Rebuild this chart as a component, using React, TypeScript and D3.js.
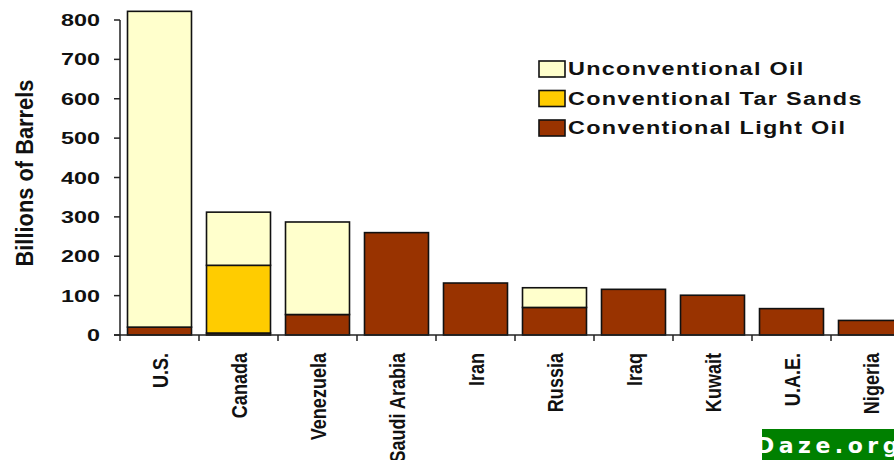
import React, { useEffect, useRef } from 'react';
import * as d3 from 'd3';

// Oil reserves by country (billions of barrels)
const countries = ['U.S.', 'Canada', 'Venezuela', 'Saudi Arabia', 'Iran', 'Russia', 'Iraq', 'Kuwait', 'U.A.E.', 'Nigeria'];
const lightOil = [20, 5, 52, 260, 132, 70, 116, 101, 67, 37];
const tarSands = [0, 172, 0, 0, 0, 0, 0, 0, 0, 0];
const unconventional = [802, 135, 235, 0, 0, 50, 0, 0, 0, 0];
const seriesNames = ['Conventional Light Oil', 'Conventional Tar Sands', 'Unconventional Oil'];
const seriesColors = ['#993300', '#FFCC00', '#FFFFCC'];
const yTicks = [0, 100, 200, 300, 400, 500, 600, 700, 800];

const App: React.FC = () => {
  const svgRef = useRef<SVGSVGElement>(null);
  const width = 894;
  const height = 460;

  useEffect(() => {
    if (!svgRef.current) return;
    const svg = d3.select(svgRef.current);
    svg.selectAll('*').remove();

    const left = 120;
    const zeroY = 335;

    const x = d3.scaleBand<string>()
      .domain(countries)
      .range([left, left + 79 * countries.length])
      .paddingInner(0.19)
      .paddingOuter(0.095);

    const y = d3.scaleLinear()
      .domain([0, 800])
      .range([zeroY, 20]);

    const rows = countries.map((c, i) => ({
      country: c,
      light: lightOil[i],
      tar: tarSands[i],
      unconv: unconventional[i]
    }));
    const stack = d3.stack<any>()
      .keys(['light', 'tar', 'unconv'])(rows);

    // Bars
    stack.forEach((layer, li) => {
      svg.append('g')
        .selectAll('rect')
        .data(layer.filter(d => d[1] - d[0] > 0))
        .enter().append('rect')
        .attr('x', d => x(d.data.country)!)
        .attr('width', x.bandwidth())
        .attr('y', d => y(d[1]))
        .attr('height', d => y(d[0]) - y(d[1]))
        .attr('fill', seriesColors[li])
        .attr('stroke', '#111')
        .attr('stroke-width', 1.6);
    });

    // Y axis
    const axisColor = '#222';
    svg.append('line')
      .attr('x1', left).attr('x2', left)
      .attr('y1', y(800)).attr('y2', zeroY)
      .attr('stroke', axisColor).attr('stroke-width', 1.5);
    svg.selectAll('.ytick')
      .data(yTicks)
      .enter().append('line')
      .attr('x1', left - 6).attr('x2', left)
      .attr('y1', d => y(d)).attr('y2', d => y(d))
      .attr('stroke', axisColor).attr('stroke-width', 1.5);
    svg.selectAll('.ylabel')
      .data(yTicks)
      .enter().append('text')
      .attr('x', 100)
      .attr('y', d => y(d))
      .attr('dy', '0.36em')
      .attr('text-anchor', 'end')
      .attr('textLength', d => String(d).length * 13)
      .attr('lengthAdjust', 'spacingAndGlyphs')
      .style('font-family', 'Liberation Sans, Arial, sans-serif')
      .style('font-weight', 'bold')
      .style('font-size', '17px')
      .style('fill', '#111')
      .text(d => d);

    // X axis
    svg.append('line')
      .attr('x1', left - 6).attr('x2', width)
      .attr('y1', zeroY).attr('y2', zeroY)
      .attr('stroke', axisColor).attr('stroke-width', 1.5);
    const step = x.step();
    const boundaries = countries.map(c => x(c)! - step * 0.095).concat([x(countries[countries.length - 1])! + x.bandwidth() + step * 0.095]);
    svg.selectAll('.xtick')
      .data(boundaries)
      .enter().append('line')
      .attr('x1', d => d).attr('x2', d => d)
      .attr('y1', zeroY).attr('y2', zeroY + 6)
      .attr('stroke', axisColor).attr('stroke-width', 1.5);
    svg.selectAll('.xlabel')
      .data(countries)
      .enter().append('text')
      .attr('transform', d => `translate(${x(d)! + x.bandwidth() / 2 + 8},${353}) rotate(-90)`)
      .attr('text-anchor', 'end')
      .style('font-family', 'Liberation Sans Narrow, Arial Narrow, Liberation Sans, sans-serif')
      .style('font-weight', 'bold')
      .style('font-size', '22px')
      .style('fill', '#111')
      .text(d => d)
      .each(function () {
        // squeeze to a condensed look
        const el = this as SVGTextElement;
        el.setAttribute('textLength', String(el.getComputedTextLength() * 0.82));
        el.setAttribute('lengthAdjust', 'spacingAndGlyphs');
      });

    // Y axis title
    svg.append('text')
      .attr('transform', `translate(33,173) rotate(-90)`)
      .attr('text-anchor', 'middle')
      .attr('textLength', 187)
      .attr('lengthAdjust', 'spacingAndGlyphs')
      .style('font-family', 'Liberation Sans Narrow, Arial Narrow, Liberation Sans, sans-serif')
      .style('font-weight', 'bold')
      .style('font-size', '23px')
      .style('fill', '#111')
      .text('Billions of Barrels');

    // Legend
    const legendOrder = [2, 1, 0];
    const legend = svg.append('g');
    const items = legend.selectAll('g')
      .data(legendOrder)
      .enter().append('g')
      .attr('transform', (d, i) => `translate(539, ${69 + i * 29.5})`);
    items.append('rect')
      .attr('x', 0).attr('y', -8)
      .attr('width', 26).attr('height', 16)
      .attr('fill', d => seriesColors[d])
      .attr('stroke', '#111')
      .attr('stroke-width', 1.6);
    items.append('text')
      .attr('x', 29)
      .attr('dy', '0.36em')
      .style('font-family', 'Liberation Sans, Arial, sans-serif')
      .style('font-weight', 'bold')
      .style('font-size', '18px')
      .style('letter-spacing', '1px')
      .style('fill', '#111')
      .text(d => seriesNames[d])
      .each(function () {
        // stretch glyphs to the wide legend lettering
        const el = this as SVGTextElement;
        el.setAttribute('textLength', String(el.getComputedTextLength() * 1.3));
        el.setAttribute('lengthAdjust', 'spacingAndGlyphs');
      });

    // Watermark (cropped)
    svg.append('rect')
      .attr('x', 762).attr('y', 429)
      .attr('width', width - 762).attr('height', height - 429)
      .attr('fill', '#008000');
    svg.append('text')
      .attr('x', 756).attr('y', 453)
      .style('font-family', 'DejaVu Sans, Verdana, sans-serif')
      .style('font-weight', 'bold')
      .style('font-size', '22px')
      .style('letter-spacing', '4.5px')
      .style('fill', 'white')
      .text('Daze.org');
  }, []);

  return (
    <svg
      ref={svgRef}
      width={width}
      height={height}
      style={{ position: 'absolute', left: 0, top: 0, background: 'white' }}
    />
  );
};

export default App;
